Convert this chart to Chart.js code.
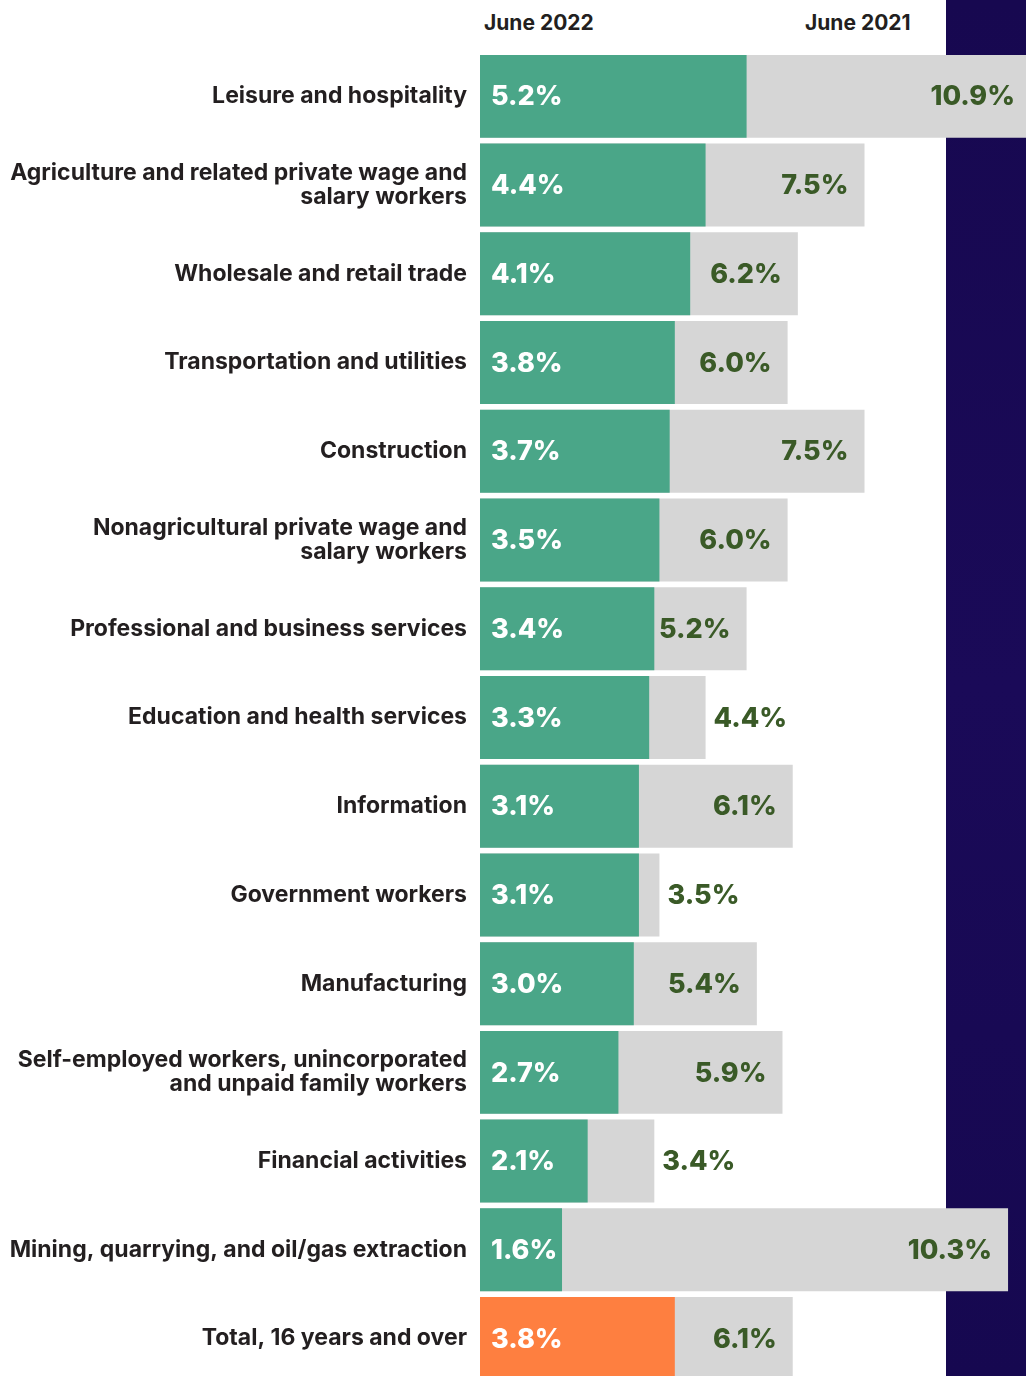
<!DOCTYPE html>
<html lang="en">
<head>
    <meta charset="UTF-8">
    <title>Unemployment rate by industry, June 2022 vs June 2021</title>
    <script src="https://cdn.jsdelivr.net/npm/chart.js"></script>
    <style>
        body {
            margin: 0;
            padding: 0;
            width: 1026px;
            height: 1376px;
            overflow: hidden;
            background: #ffffff;
            position: relative;
            font-family: Inter, "Noto Sans", sans-serif;
        }

        /* dark band down the right edge, sits behind the bars */
        .band {
            position: absolute;
            left: 946px;
            top: 0;
            width: 80px;
            height: 1376px;
            background: linear-gradient(180deg, #170850 0%, #1a0a58 50%, #160850 100%);
        }

        .head {
            position: absolute;
            top: 10px;
            font-weight: 700;
            font-size: 21px;
            color: #231f20;
        }

        canvas {
            position: absolute;
            left: 0;
            top: 0;
        }
    </style>
</head>
<body>
    <div class="band"></div>
    <div class="head" style="left:484px">June 2022</div>
    <div class="head" style="left:805px">June 2021</div>
    <canvas id="chart" width="1026" height="1408"></canvas>

    <script>
        const categories = [
            'Leisure and hospitality',
            ['Agriculture and related private wage and', 'salary workers'],
            'Wholesale and retail trade',
            'Transportation and utilities',
            'Construction',
            ['Nonagricultural private wage and', 'salary workers'],
            'Professional and business services',
            'Education and health services',
            'Information',
            'Government workers',
            'Manufacturing',
            ['Self-employed workers, unincorporated', 'and unpaid family workers'],
            'Financial activities',
            'Mining, quarrying, and oil/gas extraction',
            'Total, 16 years and over'
        ];

        const june2022 = [5.2, 4.4, 4.1, 3.8, 3.7, 3.5, 3.4, 3.3, 3.1, 3.1, 3.0, 2.7, 2.1, 1.6, 3.8];
        const june2021 = [10.9, 7.5, 6.2, 6.0, 7.5, 6.0, 5.2, 4.4, 6.1, 3.5, 5.4, 5.9, 3.4, 10.3, 6.1];

        const green = '#4aa688';
        const orange = '#fe7f40';
        const gray = '#d6d6d6';

        // last row (the total) gets the orange bar
        const colors2022 = june2022.map((v, i) => i === june2022.length - 1 ? orange : green);

        // writes the percentages on the bars
        const valueLabels = {
            id: 'valueLabels',
            afterDatasetsDraw(chart) {
                const ctx = chart.ctx;
                const area = chart.chartArea;
                const front = chart.getDatasetMeta(0).data;
                const back = chart.getDatasetMeta(1).data;
                ctx.save();
                ctx.font = '800 27px Inter, "Noto Sans", sans-serif';
                ctx.textBaseline = 'middle';

                front.forEach((bar, i) => {
                    ctx.fillStyle = '#ffffff';
                    ctx.textAlign = 'left';
                    ctx.fillText(june2022[i].toFixed(1) + '%', bar.base + 11, bar.y + 1);

                    const txt = june2021[i].toFixed(1) + '%';
                    const w = ctx.measureText(txt).width;
                    const end = Math.min(back[i].x, area.right + 5);
                    ctx.fillStyle = '#3a5a27';
                    if (end - bar.x < w + 20) {
                        // grey stub too short, put the figure just past it
                        ctx.textAlign = 'left';
                        ctx.fillText(txt, end + 8, bar.y + 1);
                    } else {
                        ctx.textAlign = 'right';
                        ctx.fillText(txt, end - 16, bar.y + 1);
                    }
                });
                ctx.restore();
            }
        };

        new Chart(document.getElementById('chart'), {
            type: 'bar',
            data: {
                labels: categories,
                datasets: [
                    {
                        label: 'June 2022',
                        data: june2022,
                        backgroundColor: colors2022,
                        barPercentage: 0.935,
                        categoryPercentage: 1
                    },
                    {
                        label: 'June 2021',
                        data: june2021,
                        backgroundColor: gray,
                        barPercentage: 0.935,
                        categoryPercentage: 1
                    }
                ]
            },
            options: {
                indexAxis: 'y',
                responsive: false,
                animation: false,
                layout: { padding: { top: 52, right: 0, bottom: 0, left: 0 } },
                plugins: {
                    legend: { display: false },
                    tooltip: { enabled: false }
                },
                scales: {
                    x: {
                        display: false,
                        min: 0,
                        max: 10.65
                    },
                    y: {
                        grid: { display: false, drawTicks: false },
                        border: { display: false },
                        afterFit(scale) { scale.width = 480; },
                        ticks: {
                            padding: 13,
                            color: '#231f20',
                            font: { family: 'Inter, "Noto Sans", sans-serif', size: 23, weight: '700', lineHeight: 1.05 }
                        }
                    }
                },
                datasets: { bar: { grouped: false } }
            },
            plugins: [valueLabels]
        });
    </script>
</body>
</html>
